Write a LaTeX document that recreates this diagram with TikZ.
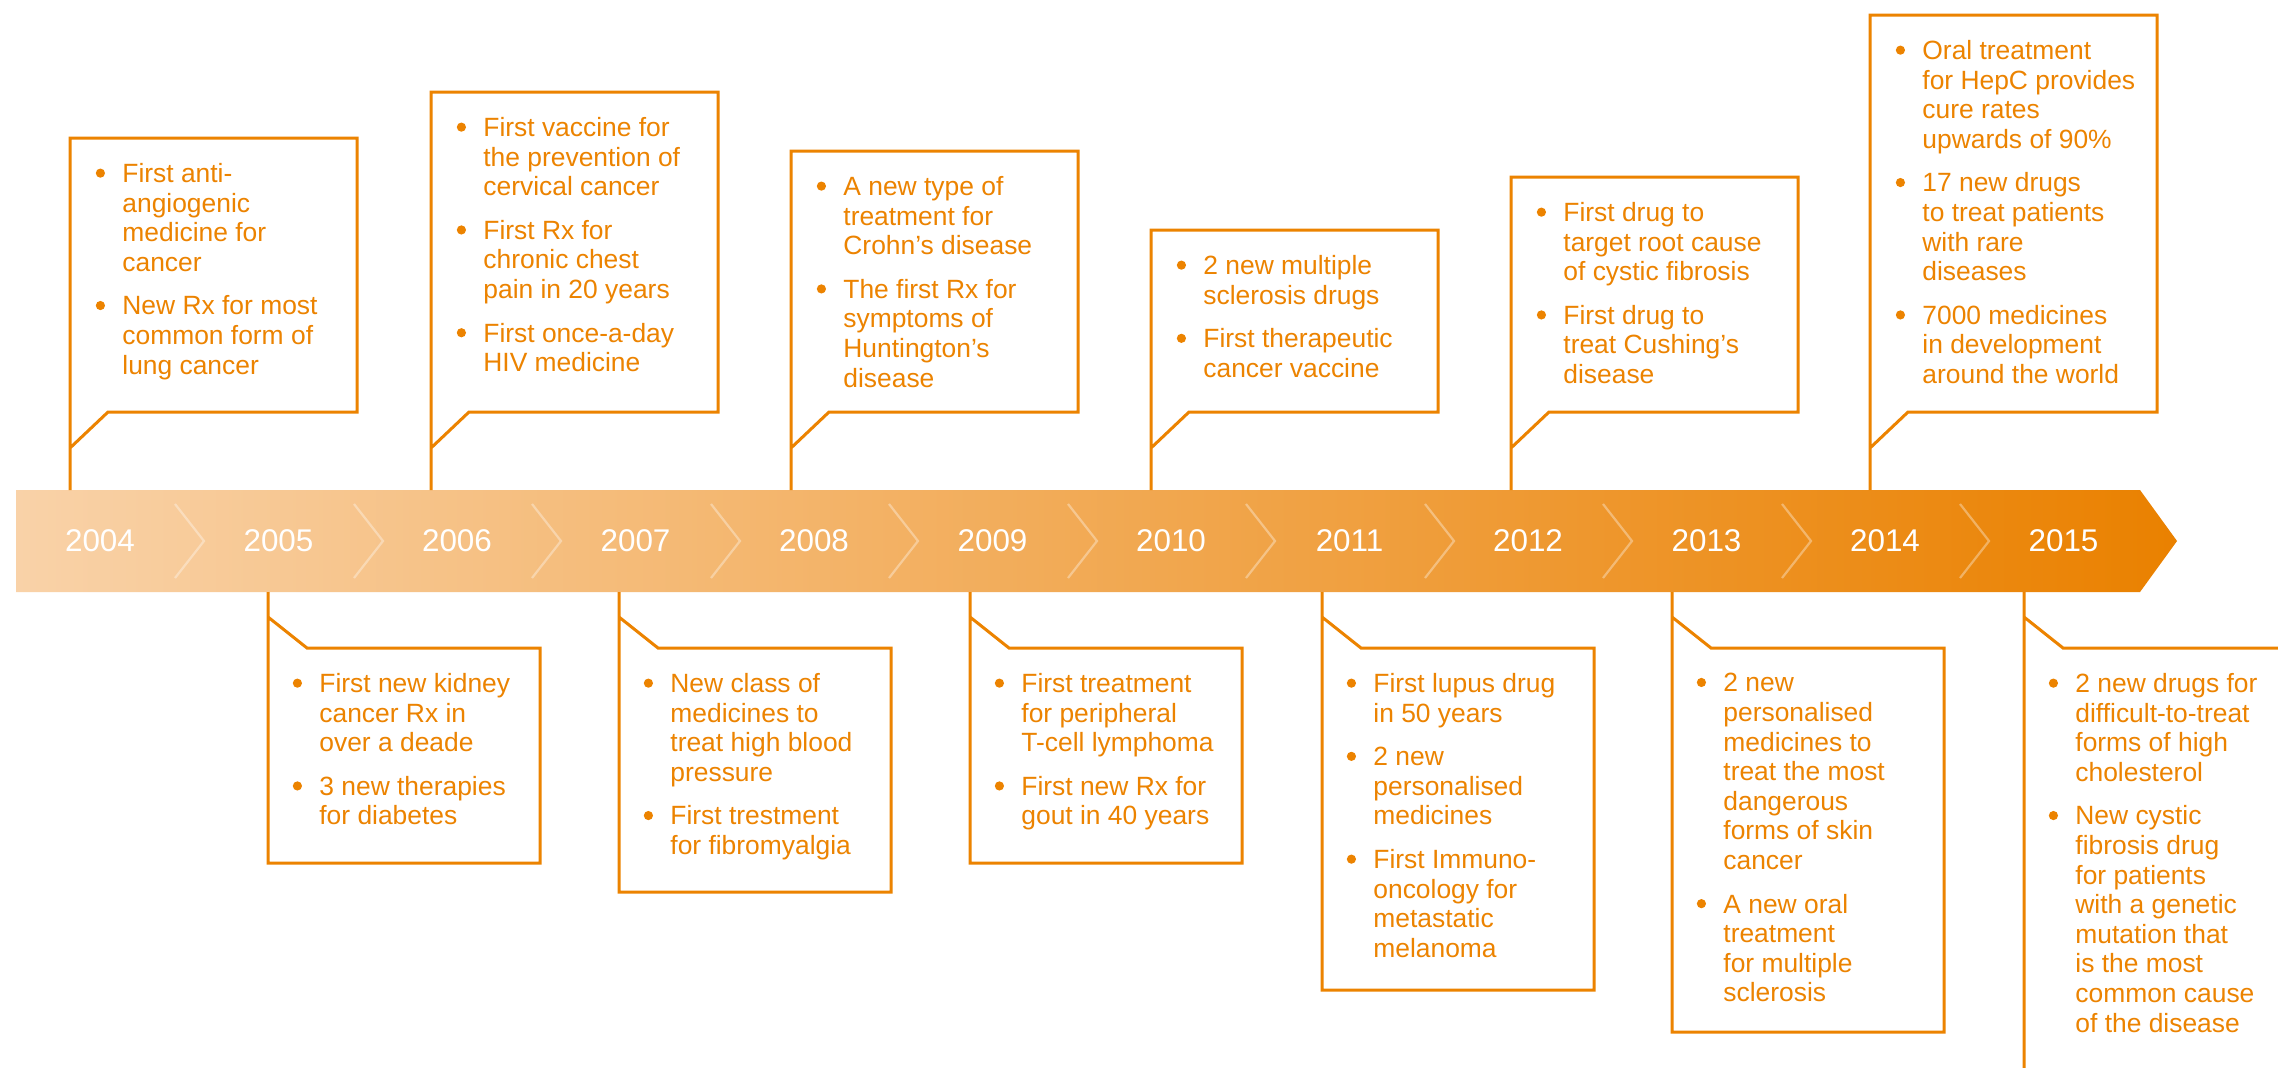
\documentclass[tikz,border=0pt]{standalone}
\usepackage{fontspec}
\setmainfont{Liberation Sans}

\definecolor{tlorange}{RGB}{236,131,0}
\definecolor{bandlight}{RGB}{249,210,168}
\definecolor{banddark}{RGB}{234,129,0}

\newcommand{\bul}{\leavevmode\llap{\raisebox{2.4pt}{\tikz\fill[tlorange] (0,0) circle (2.3pt);}\hspace{8.7pt}}}

\begin{document}
\begin{tikzpicture}[
    x=0.5pt, y=-0.5pt,
    year/.style={text=white, inner sep=0pt, font=\fontsize{15.7}{18}\selectfont},
    chev/.style={draw=white, draw opacity=0.35, line width=1.1pt},
    callout/.style={draw=tlorange, line width=1.5pt, line join=miter},
    note/.style={anchor=north west, inner sep=0pt, align=left, text=tlorange, font=\fontsize{13.2}{14.8}\selectfont}
]
\useasboundingbox (0,0) rectangle (2278,1067);
\clip (0,0) rectangle (2278,1067);
\fill[white] (0,0) rectangle (2278,1067);

% ----- band -----
\shade[left color=bandlight, right color=banddark] (16,490) -- (2140,490) -- (2177,541) -- (2140,592) -- (16,592) -- cycle;

\draw[chev] (175,504) -- (204,541) -- (175,578);
\draw[chev] (354,504) -- (383,541) -- (354,578);
\draw[chev] (532,504) -- (561,541) -- (532,578);
\draw[chev] (711,504) -- (740,541) -- (711,578);
\draw[chev] (889,504) -- (918,541) -- (889,578);
\draw[chev] (1068,504) -- (1097,541) -- (1068,578);
\draw[chev] (1246,504) -- (1275,541) -- (1246,578);
\draw[chev] (1425,504) -- (1454,541) -- (1425,578);
\draw[chev] (1603,504) -- (1632,541) -- (1603,578);
\draw[chev] (1782,504) -- (1811,541) -- (1782,578);
\draw[chev] (1960,504) -- (1989,541) -- (1960,578);

% ----- years -----
\node[year] (y2004) at (100,541) {2004};
\node[year] (y2005) at (278.5,541) {2005};
\node[year] (y2006) at (457,541) {2006};
\node[year] (y2007) at (635.5,541) {2007};
\node[year] (y2008) at (814,541) {2008};
\node[year] (y2009) at (992.5,541) {2009};
\node[year] (y2010) at (1171,541) {2010};
\node[year] (y2011) at (1349.5,541) {2011};
\node[year] (y2012) at (1528,541) {2012};
\node[year] (y2013) at (1706.5,541) {2013};
\node[year] (y2014) at (1885,541) {2014};
\node[year] (y2015) at (2063.5,541) {2015};

% ----- above the band -----
\draw[callout] (70,490) -- (70,138) -- (357,138) -- (357,412) -- (108,412) -- (70,448);
\node[note] (n2004) at (122,163) {\bul First anti-\\angiogenic\\medicine for\\cancer\\[7pt]\bul New Rx for most\\common form of\\lung cancer};

\draw[callout] (431,490) -- (431,92) -- (718,92) -- (718,412) -- (469,412) -- (431,448);
\node[note] (n2006) at (483,117) {\bul First vaccine for\\the prevention of\\cervical cancer\\[7pt]\bul First Rx for\\chronic chest\\pain in 20 years\\[7pt]\bul First once-a-day\\HIV medicine};

\draw[callout] (791,490) -- (791,151) -- (1078,151) -- (1078,412) -- (829,412) -- (791,448);
\node[note] (n2008) at (843,176) {\bul A new type of\\treatment for\\Crohn’s disease\\[7pt]\bul The first Rx for\\symptoms of\\Huntington’s\\disease};

\draw[callout] (1151,490) -- (1151,230) -- (1438,230) -- (1438,412) -- (1189,412) -- (1151,448);
\node[note] (n2010) at (1203,255) {\bul 2 new multiple\\sclerosis drugs\\[7pt]\bul First therapeutic\\cancer vaccine};

\draw[callout] (1511,490) -- (1511,177) -- (1798,177) -- (1798,412) -- (1549,412) -- (1511,448);
\node[note] (n2012) at (1563,202) {\bul First drug to\\target root cause\\of cystic fibrosis\\[7pt]\bul First drug to\\treat Cushing’s\\disease};

\draw[callout] (1870,490) -- (1870,15) -- (2157,15) -- (2157,412) -- (1908,412) -- (1870,448);
\node[note] (n2014) at (1922,40) {\bul Oral treatment\\for HepC provides\\cure rates\\upwards of 90\%\\[7pt]\bul 17 new drugs\\to treat patients\\with rare\\diseases\\[7pt]\bul 7000 medicines\\in development\\around the world};

% ----- below the band -----
\draw[callout] (268,592) -- (268,863) -- (540,863) -- (540,648) -- (307,648) -- (268,617);
\node[note] (n2005) at (319,673) {\bul First new kidney\\cancer Rx in\\over a deade\\[7pt]\bul 3 new therapies\\for diabetes};

\draw[callout] (619,592) -- (619,892) -- (891,892) -- (891,648) -- (658,648) -- (619,617);
\node[note] (n2007) at (670,673) {\bul New class of\\medicines to\\treat high blood\\pressure\\[7pt]\bul First trestment\\for fibromyalgia};

\draw[callout] (970,592) -- (970,863) -- (1242,863) -- (1242,648) -- (1009,648) -- (970,617);
\node[note] (n2009) at (1021,673) {\bul First treatment\\for peripheral\\T-cell lymphoma\\[7pt]\bul First new Rx for\\gout in 40 years};

\draw[callout] (1322,592) -- (1322,990) -- (1594,990) -- (1594,648) -- (1361,648) -- (1322,617);
\node[note] (n2011) at (1373,673) {\bul First lupus drug\\in 50 years\\[7pt]\bul 2 new\\personalised\\medicines\\[7pt]\bul First Immuno-\\oncology for\\metastatic\\melanoma};

\draw[callout] (1672,592) -- (1672,1032) -- (1944,1032) -- (1944,648) -- (1711,648) -- (1672,617);
\node[note] (n2013) at (1723,673) {\bul 2 new\\personalised\\medicines to\\treat the most\\dangerous\\forms of skin\\cancer\\[7pt]\bul A new oral\\treatment\\for multiple\\sclerosis};

\draw[callout] (2024,592) -- (2024,1100) -- (2296,1100) -- (2296,648) -- (2063,648) -- (2024,617);
\node[note] (n2015) at (2075,673) {\bul 2 new drugs for\\difficult-to-treat\\forms of high\\cholesterol\\[7pt]\bul New cystic\\fibrosis drug\\for patients\\with a genetic\\mutation that\\is the most\\common cause\\of the disease};

\end{tikzpicture}
\end{document}
